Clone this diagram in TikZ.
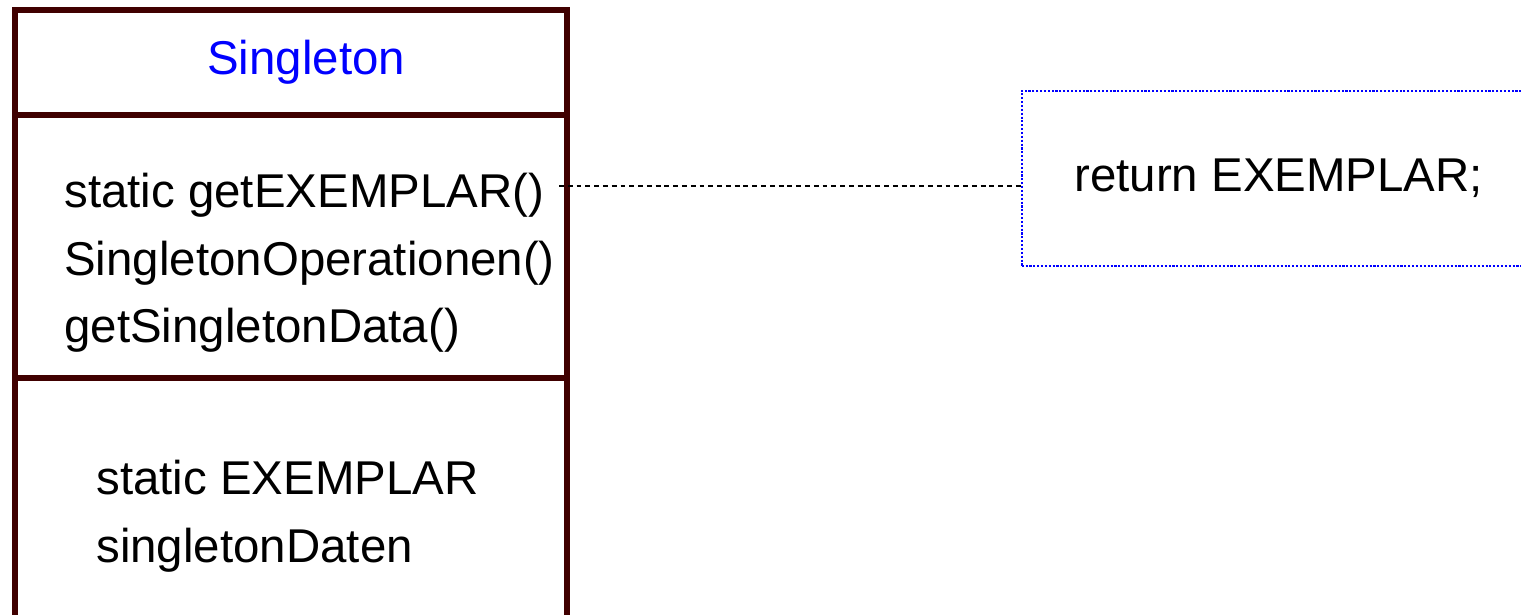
\documentclass[tikz,border=0pt]{standalone}
\usepackage{fontspec}
\setmainfont{Liberation Sans}
\usetikzlibrary{positioning}
\definecolor{umlred}{RGB}{64,0,0}
\definecolor{umlblue}{RGB}{0,0,255}

\begin{document}
\begin{tikzpicture}[
            x = 0.02cm, % one pixel of the reference
            y = -0.02cm, % y grows downwards
            node distance = 0pt, % compartments share their border
            font = \fontsize{27}{32}\selectfont,
        ]
\tikzstyle{compartment}=[
            shape = rectangle,
            draw = umlred,
            line width = 3.4pt,
            outer sep = 0pt,
            minimum width = 11.05cm
        ]
\tikzstyle{member}=[
            anchor = base west,
            inner sep = 0pt
        ]
\tikzstyle{notebox}=[
            shape = rectangle,
            draw = umlblue,
            densely dotted,
            line width = 1.2pt,
            minimum width = 10.28cm,
            minimum height = 3.51cm
        ]
\useasboundingbox (0,0) rectangle (1521,615);
\clip (0,0) rectangle (1521,615);
% class box
\node[compartment, minimum height = 2.09cm](cname) at (290.9,62.65){};
\node[compartment, minimum height = 5.26cm, below=of cname](cops){};
\node[compartment, minimum height = 5.6cm, below=of cops](cattr){};
\node[member, text = umlblue](title) at (207,75){Singleton};
\node[member](getex) at (64,207){static getEXEMPLAR()};
\node[member](ops) at (64,275){SingletonOperationen()};
\node[member](data) at (64,342){getSingletonData()};
\node[member](inst) at (96,494){static EXEMPLAR};
\node[member](daten) at (96,562){singletonDaten};
% note
\node[notebox](note) at (1278.6,178.35){};
\node[member](ret) at (1074,191){return EXEMPLAR;};
\coordinate (link) at (559,186);
\draw[black, line width = 1.2pt, dash pattern = on 2.8pt off 2.2pt] (link) -- (link -| note.west);
\end{tikzpicture}
\end{document}
